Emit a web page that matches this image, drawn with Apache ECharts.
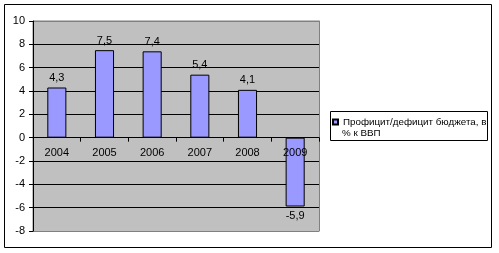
<!DOCTYPE html>
<html>
<head>
<meta charset="utf-8">
<script src="https://cdn.jsdelivr.net/npm/echarts@6/dist/echarts.min.js"></script>
<style>
  html, body { margin: 0; padding: 0; background: #fff; }
  #chart { width: 499px; height: 253px; }
</style>
</head>
<body>
<div id="chart"></div>
<script>
// budget surplus / deficit, % of GDP
var years = ["2004", "2005", "2006", "2007", "2008", "2009"];
var balance = [4.3, 7.5, 7.4, 5.4, 4.1, -5.9];
var seriesName = "Профицит/дефицит бюджета, в % к ВВП";
var legendLines = ["Профицит/дефицит бюджета, в", "% к ВВП"];
var yTicks = { min: -8, max: 10, step: 2 };

var font = "Arial, 'Liberation Sans', sans-serif";
var gridTop = 21, gridBottom = 22, chartH = 253;

// zero line position inside the plot, used to lift the category axis onto it
var plotH = chartH - gridTop - gridBottom;
var zeroOffset = -plotH * (0 - yTicks.min) / (yTicks.max - yTicks.min);

// gridline colours: edges grey like the plot border, interior black
var lineColors = [];
for (var t = yTicks.min; t <= yTicks.max; t += yTicks.step) {
  lineColors.push(t === yTicks.min || t === yTicks.max ? "#808080" : "#000");
}

var chart = echarts.init(document.getElementById("chart"), null, { renderer: "canvas" });

chart.setOption({
  animation: false,
  textStyle: { fontFamily: font },
  grid: {
    left: 33,
    right: 180,
    top: gridTop,
    bottom: gridBottom,
    show: true,
    backgroundColor: "#C0C0C0",
    borderColor: "#808080",
    borderWidth: 1
  },
  legend: {
    left: 332,
    top: 117,
    padding: 0,
    itemWidth: 5,
    itemHeight: 5,
    icon: "rect",
    data: [seriesName],
    formatter: function () { return legendLines[0]; },
    textStyle: { fontFamily: font, fontSize: 9.8, color: "#000" }
  },
  graphic: [
    {
      type: "rect",
      shape: { x: 4.5, y: 4.5, width: 487, height: 243 },
      style: { fill: null, stroke: "#000", lineWidth: 1 },
      silent: true
    },
    {
      type: "rect",
      shape: { x: 330.5, y: 111.5, width: 157, height: 29 },
      style: { fill: null, stroke: "#000", lineWidth: 1 },
      silent: true
    },
    {
      // wrapped second line of the legend label
      type: "text",
      x: 342,
      y: 133.5,
      style: {
        text: legendLines[1],
        font: "9.8px " + font,
        fill: "#000",
        verticalAlign: "middle"
      },
      silent: true
    }
  ],
  xAxis: {
    type: "category",
    data: years,
    z: 5,
    offset: zeroOffset,
    axisLine: { onZero: false, lineStyle: { color: "#000", width: 1 } },
    axisTick: { show: true, length: 4, alignWithLabel: false, lineStyle: { color: "#000" } },
    axisLabel: { margin: 10, fontSize: 11, color: "#000", fontFamily: font },
    splitLine: { show: false }
  },
  yAxis: [
    {
      type: "value",
      min: yTicks.min,
      max: yTicks.max,
      interval: yTicks.step,
      axisLine: { show: true, lineStyle: { color: "#000", width: 1 } },
      axisTick: { show: true, length: 4, lineStyle: { color: "#000" } },
      axisLabel: { margin: 8, fontSize: 11, color: "#000", fontFamily: font },
      splitLine: { show: true, lineStyle: { color: lineColors, width: 1 } },
      splitArea: { show: true, areaStyle: { color: ["#C0C0C0"] } }
    },
    {
      type: "value",
      position: "right",
      min: yTicks.min,
      max: yTicks.max,
      interval: yTicks.step,
      axisLine: { show: true, lineStyle: { color: "#808080", width: 1 } },
      axisTick: { show: false },
      axisLabel: { show: false },
      splitLine: { show: false }
    }
  ],
  series: [
    {
      name: seriesName,
      type: "bar",
      barWidth: "40%",
      itemStyle: { color: "#9999FF", borderColor: "#000", borderWidth: 1 },
      label: {
        show: true,
        distance: 4,
        fontSize: 11,
        color: "#000",
        fontFamily: font,
        formatter: function (p) { return String(p.value).replace(".", ","); }
      },
      data: balance.map(function (v) {
        return { value: v, label: { position: v < 0 ? "bottom" : "top" } };
      })
    }
  ]
});
</script>
</body>
</html>
